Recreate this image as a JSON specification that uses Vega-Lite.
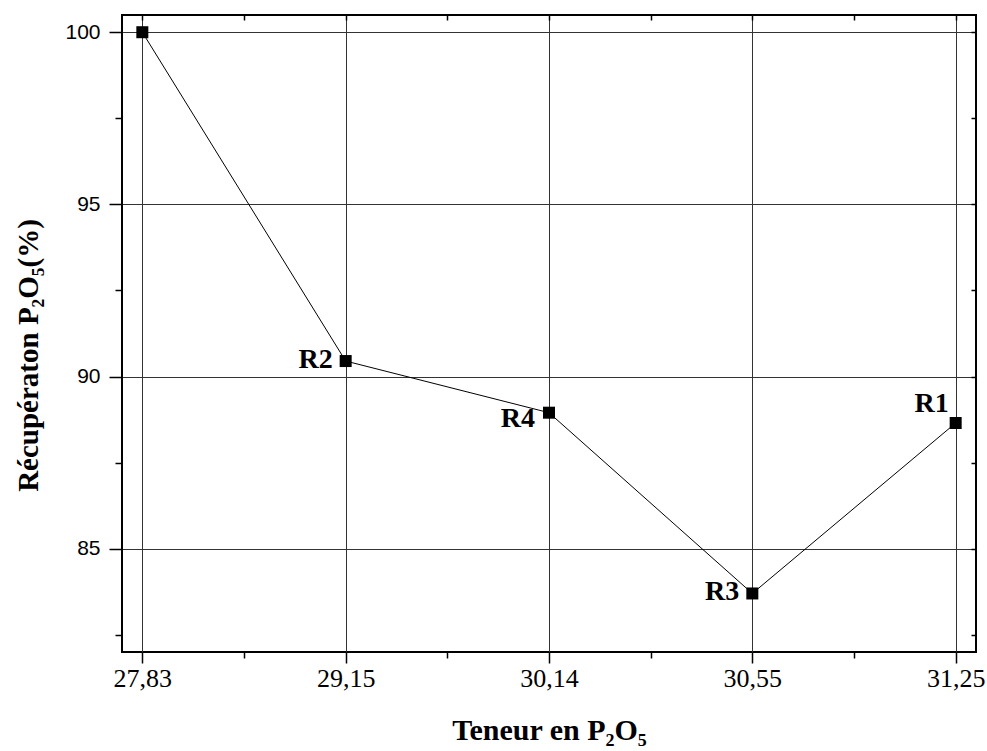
{
  "$schema": "https://vega.github.io/schema/vega-lite/v6.json",
  "autosize": {"type": "none"},
  "width": 854,
  "height": 637,
  "padding": {"left": 122, "top": 15, "right": 11, "bottom": 99},
  "background": "white",
  "config": {
    "view": {"stroke": "black", "strokeWidth": 2},
    "axis": {"domain": false, "tickColor": "black", "tickWidth": 1.5, "gridColor": "#333333", "gridWidth": 1}
  },
  "data": {
    "values": [
      {"rang": 1, "teneur": "27,83", "recuperation": 100.0, "label": ""},
      {"rang": 2, "teneur": "29,15", "recuperation": 90.45, "label": "R2"},
      {"rang": 3, "teneur": "30,14", "recuperation": 88.95, "label": "R4"},
      {"rang": 4, "teneur": "30,55", "recuperation": 83.7, "label": "R3"},
      {"rang": 5, "teneur": "31,25", "recuperation": 88.65, "label": "R1"}
    ]
  },
  "layer": [
    {
      "mark": {"type": "line", "color": "black", "strokeWidth": 1},
      "encoding": {
        "x": {
          "field": "rang", "type": "quantitative",
          "scale": {"domain": [0.9, 5.1], "nice": false, "zero": false},
          "axis": {
            "orient": "bottom",
            "values": [1, 1.5, 2, 2.5, 3, 3.5, 4, 4.5, 5],
            "labelExpr": "datum.value % 1 == 0 ? ['27,83','29,15','30,14','30,55','31,25'][datum.value - 1] : ''",
            "labelFont": "Liberation Serif", "labelFontSize": 26, "labelColor": "black", "labelPadding": 2,
            "labelOverlap": false,
            "tickSize": {"condition": {"test": "datum.value % 1 != 0", "value": 6}, "value": 11},
            "gridOpacity": {"condition": {"test": "datum.value % 1 != 0", "value": 0}, "value": 1},
            "title": "Teneur en P₂O₅",
            "titleFont": "Liberation Serif", "titleFontSize": 30, "titleFontWeight": "bold", "titleColor": "black",
            "titleY": 87, "titleBaseline": "alphabetic"
          }
        },
        "y": {
          "field": "recuperation", "type": "quantitative",
          "scale": {"domain": [82, 100.5], "nice": false, "zero": false},
          "axis": {
            "orient": "left",
            "values": [82.5, 85, 87.5, 90, 92.5, 95, 97.5, 100],
            "labelExpr": "datum.value % 5 == 0 ? format(datum.value, 'd') : ''",
            "labelFont": "Liberation Sans", "labelFontSize": 21, "labelColor": "black", "labelPadding": 9,
            "labelOverlap": false,
            "tickSize": {"condition": {"test": "datum.value % 5 != 0", "value": 7}, "value": 13},
            "gridOpacity": {"condition": {"test": "datum.value % 5 != 0", "value": 0}, "value": 1},
            "title": "Récupératon P₂O₅(%)",
            "titleFont": "Liberation Serif", "titleFontSize": 29, "titleFontWeight": "bold", "titleColor": "black",
            "titleAngle": -90, "titleX": -85, "titleY": 340, "titleBaseline": "alphabetic", "titleAlign": "center"
          }
        }
      }
    },
    {
      "mark": {"type": "point", "shape": "square", "filled": true, "color": "black", "opacity": 1, "size": 144},
      "encoding": {
        "x": {
          "field": "rang", "type": "quantitative",
          "axis": {"orient": "top", "values": [1, 1.5, 2, 2.5, 3, 3.5, 4, 4.5, 5], "labels": false, "grid": false, "tickSize": -5, "title": null}
        },
        "y": {
          "field": "recuperation", "type": "quantitative",
          "axis": {"orient": "right", "values": [82.5, 85, 87.5, 90, 92.5, 95, 97.5, 100], "labels": false, "grid": false, "tickSize": -5, "title": null}
        }
      }
    },
    {
      "transform": [{"filter": "datum.label == 'R2' || datum.label == 'R3'"}],
      "mark": {"type": "text", "font": "Liberation Serif", "fontSize": 28, "fontWeight": "bold", "color": "black", "align": "right", "baseline": "middle", "dx": -13, "dy": -1},
      "encoding": {
        "x": {"field": "rang", "type": "quantitative", "axis": null},
        "y": {"field": "recuperation", "type": "quantitative", "axis": null},
        "text": {"field": "label"}
      }
    },
    {
      "transform": [{"filter": "datum.label == 'R4'"}],
      "mark": {"type": "text", "font": "Liberation Serif", "fontSize": 28, "fontWeight": "bold", "color": "black", "align": "right", "baseline": "middle", "dx": -14, "dy": 6},
      "encoding": {
        "x": {"field": "rang", "type": "quantitative", "axis": null},
        "y": {"field": "recuperation", "type": "quantitative", "axis": null},
        "text": {"field": "label"}
      }
    },
    {
      "transform": [{"filter": "datum.label == 'R1'"}],
      "mark": {"type": "text", "font": "Liberation Serif", "fontSize": 28, "fontWeight": "bold", "color": "black", "align": "right", "baseline": "middle", "dx": -7, "dy": -19},
      "encoding": {
        "x": {"field": "rang", "type": "quantitative", "axis": null},
        "y": {"field": "recuperation", "type": "quantitative", "axis": null},
        "text": {"field": "label"}
      }
    }
  ],
  "resolve": {"axis": {"x": "independent", "y": "independent"}}
}
